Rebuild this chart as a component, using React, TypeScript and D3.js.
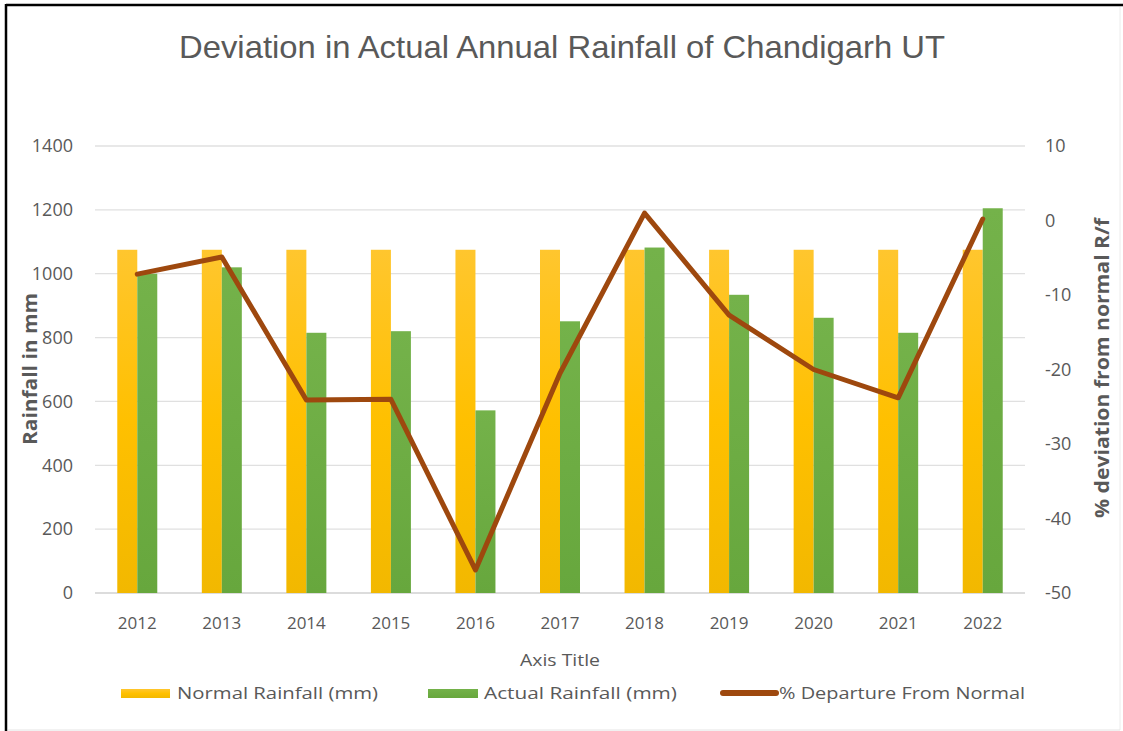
import React from "react";
import * as d3 from "d3";

const years = ["2012","2013","2014","2015","2016","2017","2018","2019","2020","2021","2022"];
const normalRainfall = [1075,1075,1075,1075,1075,1075,1075,1075,1075,1075,1075];
const actualRainfall = [1000,1020,815,820,572,851,1082,934,862,815,1205];
const departure = [-7.2,-4.9,-24.1,-24,-46.9,-20.5,1.0,-12.7,-20,-23.8,0.2];
const leftTicks = [0,200,400,600,800,1000,1200,1400];
const rightTicks = [-50,-40,-30,-20,-10,0,10];

const W = 1123, H = 731;
const X0 = 95, X1 = 1025, Y0 = 593, Y1 = 146;
const FONT = "'Open Sans', 'Liberation Sans', sans-serif";
const TXT = "#595959";

export default function App() {
  const x = d3.scaleBand<string>().domain(years).range([X0, X1]).paddingInner(0).paddingOuter(0);
  const bw = 20;
  const yL = d3.scaleLinear().domain([0, 1400]).range([Y0, Y1]);
  const yR = d3.scaleLinear().domain([-50, 10]).range([Y0, Y1]);
  const line = d3.line<number>()
    .x((_, i) => (x(years[i]) as number) + x.bandwidth() / 2)
    .y((d) => yR(d));

  return (
    <div style={{ position: "absolute", left: 0, top: 0 }}>
      <svg width={W} height={H} style={{ display: "block" }}>
        <defs>
          <linearGradient id="gy" x1="0" y1="0" x2="0" y2="1">
            <stop offset="0" stopColor="#FFC62E" />
            <stop offset="0.5" stopColor="#FFC000" />
            <stop offset="1" stopColor="#F2B800" />
          </linearGradient>
          <linearGradient id="gg" x1="0" y1="0" x2="0" y2="1">
            <stop offset="0" stopColor="#74B24A" />
            <stop offset="1" stopColor="#67A73D" />
          </linearGradient>
        </defs>
        <rect x={0} y={0} width={W} height={H} fill="#fff" />
        {/* frame */}
        <line x1={6} y1={5} x2={W} y2={5} stroke="#000" strokeWidth={2.5} />
        <line x1={6} y1={4} x2={6} y2={H} stroke="#000" strokeWidth={2.5} />
        <line x1={1120} y1={7} x2={1120} y2={H - 1} stroke="#ececec" strokeWidth={1} />
        <line x1={8} y1={H - 1} x2={1120} y2={H - 1} stroke="#e4e4e4" strokeWidth={1} />

        <text x={562} y={58} textAnchor="middle" fontFamily="'Liberation Sans Narrow', 'Liberation Sans', sans-serif"
          fontSize={32} fill={TXT} textLength={766} lengthAdjust="spacingAndGlyphs">
          Deviation in Actual Annual Rainfall of Chandigarh UT
        </text>

        {/* gridlines */}
        {leftTicks.map((t) => (
          <line key={t} x1={X0} x2={X1} y1={yL(t)} y2={yL(t)} stroke={t === 0 ? "#d0d0d0" : "#e0e0e0"} strokeWidth={1.3} />
        ))}

        {/* bars */}
        {years.map((yr, i) => {
          const cx = (x(yr) as number) + x.bandwidth() / 2;
          return (
            <g key={yr}>
              <rect x={cx - bw} y={yL(normalRainfall[i])} width={bw} height={Y0 - yL(normalRainfall[i])} fill="url(#gy)" />
              <rect x={cx} y={yL(actualRainfall[i])} width={bw} height={Y0 - yL(actualRainfall[i])} fill="url(#gg)" />
            </g>
          );
        })}

        <path d={line(departure) || ""} fill="none" stroke="#9E480E" strokeWidth={5} strokeLinejoin="round" strokeLinecap="round" />

        {/* left ticks */}
        {leftTicks.map((t) => (
          <text key={t} x={73} y={yL(t)} dy="0.35em" textAnchor="end" fontFamily={FONT} fontSize={18} fill={TXT}>{t}</text>
        ))}
        {/* right ticks */}
        {rightTicks.map((t) => (
          <text key={t} x={1045} y={yR(t)} dy="0.35em" textAnchor="start" fontFamily={FONT} fontSize={18} fill={TXT}>{t}</text>
        ))}
        {/* x labels */}
        {years.map((yr) => (
          <text key={yr} x={(x(yr) as number) + x.bandwidth() / 2} y={623} dy="0.35em" textAnchor="middle" fontFamily={FONT} fontSize={17} fill={TXT}>{yr}</text>
        ))}
        <text x={560} y={660} dy="0.35em" textAnchor="middle" fontFamily={FONT} fontSize={17} fill={TXT} textLength={80} lengthAdjust="spacingAndGlyphs">Axis Title</text>

        <text transform="translate(30,369) rotate(-90)" textAnchor="middle" dy="0.35em" fontFamily={FONT} fontSize={20} fontWeight="bold" fill={TXT} textLength={152} lengthAdjust="spacingAndGlyphs">Rainfall in mm</text>
        <text transform="translate(1102,368) rotate(-90)" textAnchor="middle" dy="0.35em" fontFamily={FONT} fontSize={20} fontWeight="bold" fill={TXT} textLength={300} lengthAdjust="spacingAndGlyphs">% deviation from normal R/f</text>

        {/* legend */}
        <rect x={121} y={689} width={49} height={9} fill="url(#gy)" />
        <text x={177} y={693} dy="0.35em" fontFamily={FONT} fontSize={17} fill={TXT} textLength={201} lengthAdjust="spacingAndGlyphs">Normal Rainfall  (mm)</text>
        <rect x={428} y={689} width={50} height={9} fill="url(#gg)" />
        <text x={484} y={693} dy="0.35em" fontFamily={FONT} fontSize={17} fill={TXT} textLength={193} lengthAdjust="spacingAndGlyphs">Actual Rainfall  (mm)</text>
        <line x1={723} x2={776} y1={693} y2={693} stroke="#9E480E" strokeWidth={6} strokeLinecap="round" />
        <text x={779} y={693} dy="0.35em" fontFamily={FONT} fontSize={17} fill={TXT} textLength={246} lengthAdjust="spacingAndGlyphs">% Departure From Normal</text>
      </svg>
    </div>
  );
}
